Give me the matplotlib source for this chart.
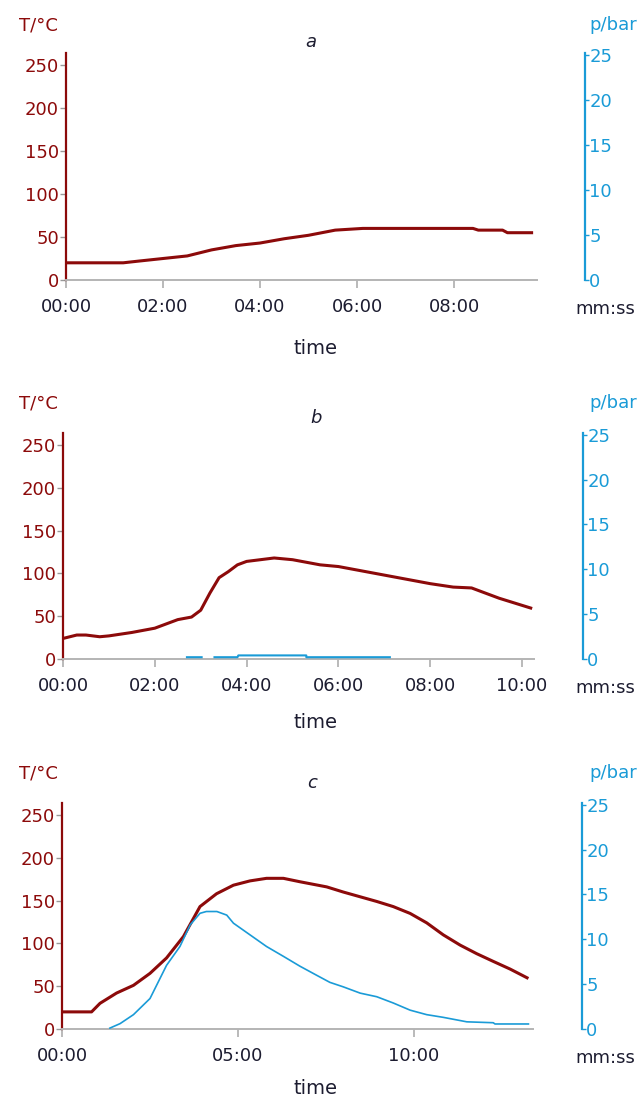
import matplotlib
matplotlib.use("Agg")
import matplotlib.pyplot as plt
from matplotlib.ticker import FuncFormatter
import numpy as np

plt.rcParams['font.family'] = ['DejaVu Sans']

# ---- data (time in minutes) ----
t_a = [0, 0.5, 1.0, 1.18, 1.5, 2.0, 2.5, 3.0, 3.5, 4.0, 4.5, 5.0, 5.55, 6.12, 7.0, 8.0, 8.39, 8.5, 9.0, 9.1, 9.63]
T_a = [20, 20, 20, 20, 22, 25, 28, 35, 40, 43, 48, 52, 58, 60, 60, 60, 60, 58, 58, 55, 55]

t_b = [0, 0.3, 0.5, 0.8, 1.0, 1.5, 2.0, 2.5, 2.8, 3.0, 3.2, 3.4, 3.6, 3.8, 4.0, 4.3, 4.6, 5.0, 5.3, 5.6, 6.0,
       7.0, 8.0, 8.5, 8.9, 9.5, 10.22]
T_b = [24, 28, 28, 26, 27, 31, 36, 46, 49, 57, 77, 95, 102, 110, 114, 116, 118, 116, 113, 110, 108,
       98, 88, 84, 83, 71, 59]
tp_b = [2.7, 3.02, np.nan, 3.3, 3.8, 3.82, 5.3, 5.3, 7.12]
p_b = [0.2, 0.2, np.nan, 0.2, 0.2, 0.4, 0.4, 0.2, 0.2]

t_c = [0, 0.5, 0.84, 1.08, 1.55, 2.03, 2.5, 2.97, 3.45, 3.92, 4.39, 4.87, 5.34, 5.81, 6.29, 6.76, 7.52,
       7.99, 8.94, 9.41, 9.89, 10.36, 10.83, 11.31, 11.78, 12.25, 12.73, 13.25]
T_c = [20, 20, 20, 30, 42, 51, 65, 83, 108, 143, 158, 168, 173, 176, 176, 172, 166,
       160, 149, 143, 135, 124, 110, 98, 88, 79, 70, 59]
tp_c = [1.36, 1.65, 2.03, 2.5, 2.97, 3.35, 3.64, 3.92, 4.1, 4.4, 4.68, 4.87, 5.34, 5.81, 6.29, 6.76, 7.23,
        7.61, 7.99, 8.47, 8.94, 9.41, 9.89, 10.36, 10.83, 11.5, 12.25, 12.3, 13.25]
p_c = [0.1, 0.6, 1.6, 3.4, 7.1, 9.2, 11.6, 12.9, 13.1, 13.1, 12.7, 11.8, 10.5, 9.2, 8.1, 7.0, 6.0,
       5.2, 4.7, 4.0, 3.6, 2.9, 2.1, 1.6, 1.3, 0.8, 0.7, 0.56, 0.56]

titles = ['a', 'b', 'c']
xticks = [[0, 2, 4, 6, 8], [0, 2, 4, 6, 8, 10], [0, 5, 10]]
xmax = [9.71, 10.26, 13.38]
T_ticks = [0, 50, 100, 150, 200, 250]
p_ticks = [0, 5, 10, 15, 20, 25]

RED = '#8c0a0a'
BLUE = '#1a9bd7'
GREY = '#b4b4b4'
TXT = '#1c1c30'

W, H = 641, 1102
fig = plt.figure(figsize=(W / 100, H / 100), dpi=100)

def rect(l, r, t, b):
    return [l / W, 1 - b / H, (r - l) / W, (b - t) / H]

# pixel geometry of panels: left, right, top, bottom, right-spine x, title x, title y, time y, header y
geo = [
    (66, 537, 53, 280, 585, 311, 42, 348, 25),
    (63, 534, 433, 659, 583, 316, 418, 722, 403),
    (62, 533, 803, 1029, 582, 312, 783, 1089, 773),
]

def mmss(x, pos):
    m = int(round(x * 60)) // 60
    s = int(round(x * 60)) % 60
    return f"{m:02d}:{s:02d}"

series = [(t_a, T_a, None, None), (t_b, T_b, tp_b, p_b), (t_c, T_c, tp_c, p_c)]
FS = 13

for i, (l, r, t, b, rx, tx, ty, timey, hy) in enumerate(geo):
    ax = fig.add_axes(rect(l, r, t, b))
    ax2 = ax.twinx()
    tt, TT, tp, pp = series[i]
    ax.plot(tt, TT, color=RED, lw=2.2, solid_capstyle='butt', zorder=3)
    if tp is not None:
        ax2.plot(tp, pp, color=BLUE, lw=1.5 if i == 1 else 1.2, zorder=3)

    ax.set_xlim(0, xmax[i])
    ax.set_ylim(0, 264)
    ax2.set_ylim(0, 25.2)
    ax.set_xticks(xticks[i])
    ax.xaxis.set_major_formatter(FuncFormatter(mmss))
    ax.set_yticks(T_ticks)
    ax2.set_yticks(p_ticks)

    for s in ['top', 'right']:
        ax.spines[s].set_visible(False)
    for s in ['top', 'left', 'bottom']:
        ax2.spines[s].set_visible(False)
    ax.spines['left'].set_color(RED)
    ax.spines['left'].set_linewidth(1.6)
    ax.spines['bottom'].set_color(GREY)
    ax.spines['bottom'].set_linewidth(1.4)
    ax2.spines['right'].set_color(BLUE)
    ax2.spines['right'].set_linewidth(1.6)
    ax2.spines['right'].set_position(('outward', (rx - r) * 0.72))

    ax.tick_params(axis='x', colors=GREY, labelcolor=TXT, length=6, width=1.3, pad=7, labelsize=FS)
    ax.tick_params(axis='y', colors='#999999', labelcolor=RED, length=4, width=1.0, pad=1, labelsize=FS)
    ax2.tick_params(axis='y', colors=BLUE, labelcolor=BLUE, length=3, width=1.0, pad=0, labelsize=FS)

    fig.text(tx / W, 1 - ty / H, titles[i], ha='center', va='center', fontsize=FS, style='italic', color=TXT)
    fig.text(38 / W, 1 - hy / H, 'T/°C', ha='center', va='center', fontsize=FS, color=RED)
    fig.text(613 / W, 1 - hy / H, 'p/bar', ha='center', va='center', fontsize=FS, color=BLUE)
    fig.text(605 / W, 1 - (b + 29) / H, 'mm:ss', ha='center', va='center', fontsize=FS, color=TXT)
    fig.text(316 / W, 1 - timey / H, 'time', ha='center', va='center', fontsize=FS + 1, color=TXT)

fig.savefig('out.png', dpi=100)
